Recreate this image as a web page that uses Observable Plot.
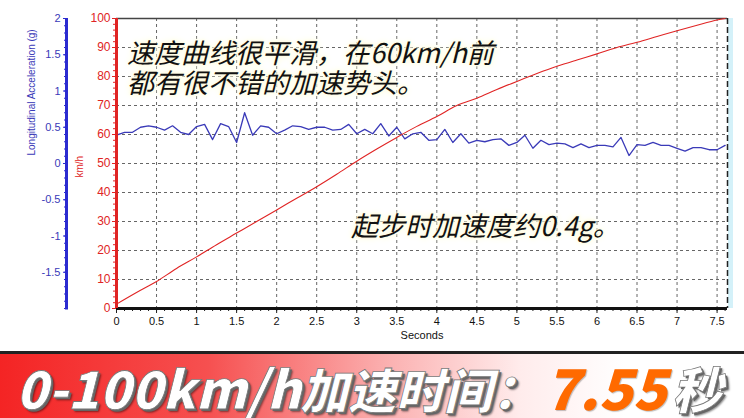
<!DOCTYPE html>
<html><head><meta charset="utf-8">
<script src="https://cdn.jsdelivr.net/npm/d3@7"></script>
<script src="https://cdn.jsdelivr.net/npm/@observablehq/plot@0.6"></script>
<style>
body{margin:0;background:#fff;}
#wrap{position:relative;width:744px;height:418px;overflow:hidden;background:#fff;}
#chart{position:absolute;left:0;top:0;}
.note{position:absolute;font-family:"Noto Sans CJK SC";font-style:italic;font-size:27px;line-height:28px;height:28px;color:#111;white-space:nowrap;padding-right:4px;
 text-shadow:0 0 3px #fffbe0,0 0 3px #fffbe0,0 0 6px #fffbe0,0 0 8px #fffbe0;}
#banner{position:absolute;left:0;top:351px;width:744px;height:64px;border-top:3px solid #222;
 background:linear-gradient(to right,#f42424 0%,#f65050 28%,#fbb0b0 52%,#ffecec 70%,#ffffff 84%);}
.bt{position:absolute;font-family:"Noto Sans CJK SC";font-weight:900;font-style:italic;white-space:nowrap;line-height:60px;height:60px;padding-right:8px;}
.w{color:#fff;-webkit-text-stroke:0.8px #777;text-shadow:2px 2px 0 #666,3px 3px 2px rgba(0,0,0,.45);}
.o{color:#ff6a00;text-shadow:1px 1px 1px rgba(0,0,0,.25);}
</style></head><body>
<div id="wrap">
 <div id="chart"></div>
 <div class="note" id="n1a" style="left:127px;top:38px;"></div>
 <div class="note" id="n1b" style="left:127px;top:68px;"></div>
 <div class="note" id="n2" style="left:351px;top:211px;"></div>
 <div id="banner">
  <span class="bt w" id="b1" style="left:16px;top:3px;font-size:52px;"></span>
  <span class="bt w" id="b2" style="left:300px;top:4px;font-size:48px;"></span>
  <span class="bt o" id="b3" style="left:545px;top:2px;font-size:56px;"></span>
  <span class="bt w" id="b4" style="left:672px;top:3px;font-size:50px;"></span>
 </div>
</div>
<script>
// ---- data ----
const speedTime = [0,0.25,0.5,0.75,1.0,1.25,1.5,1.75,2.0,2.25,2.5,2.75,3.0,3.25,3.5,3.75,4.0,4.25,4.5,4.75,5.0,5.25,5.5,5.75,6.0,6.25,6.5,6.75,7.0,7.25,7.5,7.6];
const speedKmh  = [1.5,5.5,9.3,13.8,17.8,22,26,30,34,38,42,46.3,50.8,55,59,62.8,66.2,70,72.5,75.5,78.3,81,83.5,85.7,87.8,90,91.8,93.8,95.8,97.7,99.5,100];

const accTime = [0,0.1,0.2,0.3,0.4,0.5,0.6,0.7,0.8,0.9,1.0,1.1,1.2,1.3,1.4,1.5,1.6,1.7,1.8,1.9,
 2.0,2.1,2.2,2.3,2.4,2.5,2.6,2.7,2.8,2.9,3.0,3.1,3.2,3.3,3.4,3.5,3.6,3.7,3.8,3.9,
 4.0,4.1,4.2,4.3,4.4,4.5,4.6,4.7,4.8,4.9,5.0,5.1,5.2,5.3,5.4,5.5,5.6,5.7,5.8,5.9,
 6.0,6.1,6.2,6.3,6.4,6.5,6.6,6.7,6.8,6.9,7.0,7.1,7.2,7.3,7.4,7.5,7.6];
const accG = [0.39,0.43,0.43,0.50,0.52,0.50,0.46,0.52,0.43,0.40,0.51,0.54,0.33,0.55,0.51,0.29,0.70,0.39,0.52,0.50,
 0.41,0.46,0.52,0.51,0.47,0.50,0.50,0.46,0.47,0.54,0.41,0.47,0.41,0.55,0.38,0.50,0.34,0.41,0.43,0.32,
 0.33,0.47,0.29,0.41,0.28,0.32,0.30,0.33,0.34,0.25,0.29,0.39,0.21,0.32,0.26,0.28,0.27,0.22,0.27,0.22,
 0.25,0.25,0.23,0.36,0.11,0.26,0.25,0.29,0.25,0.25,0.21,0.17,0.22,0.22,0.19,0.19,0.25];

const xTicks = [0,0.5,1,1.5,2,2.5,3,3.5,4,4.5,5,5.5,6,6.5,7,7.5];
const xTickLabels = ["0","0.5","1","1.5","2","2.5","3","3.5","4","4.5","5","5.5","6","6.5","7","7.5"];
const kmhTicks = [0,10,20,30,40,50,60,70,80,90,100];
const kmhTickLabels = ["0","10","20","30","40","50","60","70","80","90","100"];
const gTicks = [-1.5,-1,-0.5,0,0.5,1,1.5,2];
const gTickLabels = ["-1.5","-1","-0.5","0","0.5","1","1.5","2"];
const xTitle = "Seconds";
const yTitleKmh = "km/h";
const yTitleG = "Longitudinal Acceleration (g)";
const note1 = ["速度曲线很平滑，在60km/h前","都有很不错的加速势头。"];
const note2 = "起步时加速度约0.4g。";
const bannerParts = ["0-100km/h","加速时间：","7.55","秒"];

// ---- build ----
const speed = speedTime.map((t,i)=>({t, v:speedKmh[i]}));
const acc = accTime.map((t,i)=>({t, g:accG[i]}));
const toKmh = g => 50 + 25*g;           // secondary (g) axis mapped onto km/h scale
const X_MAX = 7.63;
const RED = "#e02424", BLUE = "#2b2bd0", BLUEL = "#3a3ab8";
const xMinor = d3.range(0, 77).map(i => i/10);
const kmhMinor = d3.range(0, 51).map(i => i*2);
const gMinor = d3.range(-20, 21).map(i => i/10);
const gTickPos = gTicks.map(toKmh);

const chart = Plot.plot({
  width: 744, height: 350,
  marginLeft: 116, marginRight: 17, marginTop: 18, marginBottom: 42,
  style: {fontFamily: "'Liberation Sans', Arial, sans-serif", fontSize: "11px", background: "transparent", overflow: "visible"},
  x: {domain: [0, X_MAX], axis: null, label: null},
  y: {domain: [0, 100], axis: null, label: null},
  marks: [
    Plot.gridX(xTicks.slice(1), {stroke: "#666", strokeOpacity: 1, strokeDasharray: "3,3"}),
    Plot.gridY(kmhTicks.slice(1, -1), {stroke: "#666", strokeOpacity: 1, strokeDasharray: "3,3"}),
    Plot.ruleX([X_MAX], {dx: 3, stroke: "#d4f1f9", strokeWidth: 5}),
    Plot.ruleX([X_MAX], {stroke: "#222", strokeWidth: 1.5, strokeDasharray: "6,3"}),
    Plot.ruleY([100], {stroke: "#444", strokeWidth: 1.5}),
    Plot.line(acc, {x: "t", y: d => toKmh(d.g), stroke: BLUEL, strokeWidth: 1.3}),
    Plot.line(speed, {x: "t", y: "v", stroke: RED, strokeWidth: 1.1, curve: "catmull-rom"}),
    // x axis
    Plot.axisX(xMinor, {anchor: "bottom", tickSize: 3, tickFormat: () => "", stroke: "#222", label: null}),
    Plot.axisX(xTicks, {anchor: "bottom", tickSize: 5, tickPadding: 4, stroke: "#222", fill: "#111",
      tickFormat: d => xTickLabels[xTicks.indexOf(d)], label: null}),
    Plot.ruleY([0], {stroke: "#111", strokeWidth: 3}),
    Plot.text([xTitle], {frameAnchor: "bottom", dy: 30, fill: "#111", fontSize: 11}),
    // red km/h axis
    Plot.axisY(kmhMinor, {anchor: "left", tickSize: 3, tickFormat: () => "", stroke: RED, label: null}),
    Plot.axisY(kmhTicks, {anchor: "left", tickSize: 4, tickPadding: 2, stroke: RED, fill: RED,
      tickFormat: d => kmhTickLabels[kmhTicks.indexOf(d)], label: null, fontSize: 12}),
    Plot.ruleX([0], {stroke: RED, strokeWidth: 3}),
    Plot.text([yTitleKmh], {frameAnchor: "left", dx: -37, dy: 14, rotate: -90, fill: RED, fontSize: 10}),
    // blue g axis (drawn 50px left of the plot)
    Plot.axisY(gMinor.map(toKmh), {anchor: "left", dx: -50, tickSize: 2, tickFormat: () => "", stroke: BLUE, label: null}),
    Plot.axisY(gTickPos, {anchor: "left", dx: -50, tickSize: 3, tickPadding: 3, stroke: BLUE, fill: BLUEL,
      tickFormat: d => gTickLabels[gTickPos.indexOf(d)], label: null, fontSize: 11}),
    Plot.ruleX([0], {y1: toKmh(-2.02), y2: toKmh(2), dx: -50, stroke: BLUE, strokeWidth: 3}),
    Plot.text([yTitleG], {frameAnchor: "left", dx: -85, dy: -8, rotate: -90, fill: BLUEL, fontSize: 10})
  ]
});
document.getElementById("chart").appendChild(chart);
document.getElementById("n1a").textContent = note1[0];
document.getElementById("n1b").textContent = note1[1];
document.getElementById("n2").textContent = note2;
["b1","b2","b3","b4"].forEach((id,i)=>document.getElementById(id).textContent = bannerParts[i]);
</script>
</body></html>
